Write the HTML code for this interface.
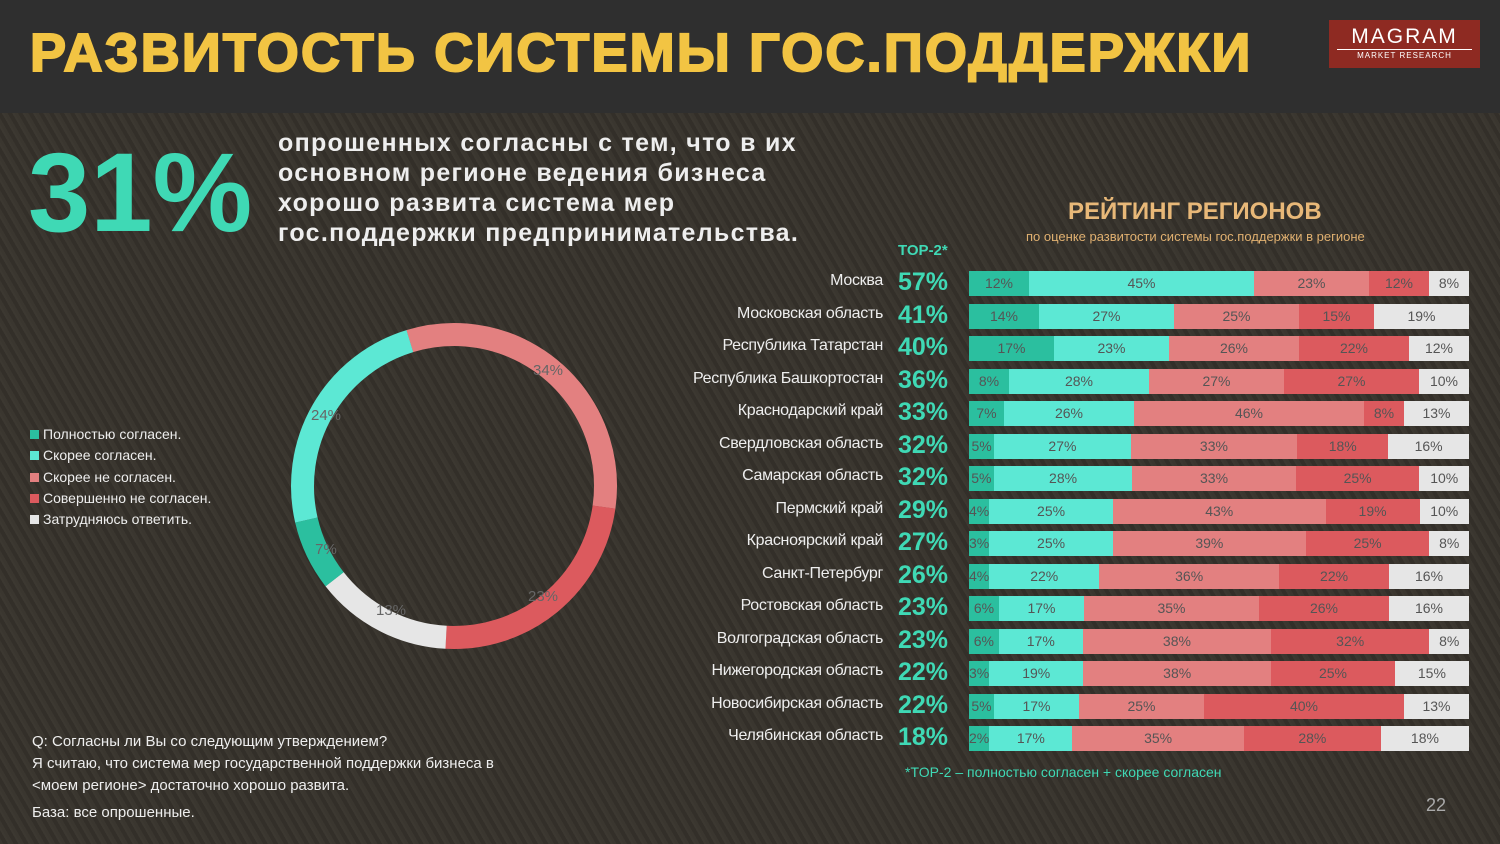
<!DOCTYPE html>
<html><head><meta charset="utf-8"><style>
*{margin:0;padding:0;box-sizing:border-box}
body{width:1500px;height:844px;overflow:hidden;font-family:"Liberation Sans",sans-serif;position:relative;
background:repeating-linear-gradient(60deg,#3a362f 0 3px,#332f29 3px 7px,#3c3831 7px 9px),#37332d;}
.hdr{position:absolute;left:0;top:0;width:1500px;height:113px;background:#2f2f2f}
.title{position:absolute;left:30px;top:22px;font-size:54px;font-weight:900;color:#f2c443;letter-spacing:2.2px;-webkit-text-stroke:2px #f2c443}
.logo{position:absolute;left:1329px;top:20px;width:151px;height:48px;background:#8e2a22;color:#fff;text-align:center}
.abs{position:absolute}
.big{left:28px;top:128px;font-size:112px;font-weight:bold;color:#3fd9b5}
.lead{left:278px;top:128px;font-size:25px;font-weight:bold;color:#eee;line-height:30px;letter-spacing:1.3px}
.leg{left:30px;top:424px;font-size:14px;color:#eee;line-height:21.3px}
.leg span{display:inline-block;width:9px;height:9px;margin-right:4px}
.row{position:absolute;left:969px;width:500px;height:25px;display:flex}
.row div{height:25px;line-height:25px;font-size:14px;color:#555;text-align:center;white-space:nowrap}
.name{position:absolute;right:617px;font-size:16px;color:#eee;text-align:right;white-space:nowrap;letter-spacing:-0.3px}
.top{position:absolute;left:898px;font-size:25px;font-weight:bold;color:#3fd9b5}
.a{background:#2bbf9f}.b{background:#5ce8d4}.c{background:#e38080}.d{background:#dc5a5e}.e{background:#e6e6e6}
</style></head><body>
<div class="hdr"></div>
<div class="title">РАЗВИТОСТЬ СИСТЕМЫ ГОС.ПОДДЕРЖКИ</div>
<div class="logo"><div style="font-size:21px;letter-spacing:2px;margin-top:6px;line-height:22px">MAGRAM</div><div style="font-size:8px;border-top:1px solid #fff;margin:1px 8px 0;padding-top:1px;letter-spacing:1px">MARKET RESEARCH</div></div>
<div class="abs big">31%</div>
<div class="abs lead">опрошенных согласны с тем, что в их<br>основном регионе ведения бизнеса<br>хорошо развита система мер<br>гос.поддержки предпринимательства.</div>
<div class="abs" style="left:1068px;top:198px;font-size:24px;font-weight:bold;color:#e8b878">РЕЙТИНГ РЕГИОНОВ</div>
<div class="abs" style="left:1026px;top:229px;font-size:13px;color:#e0b070">по оценке развитости системы гос.поддержки в регионе</div>
<div class="abs" style="left:898px;top:242px;font-size:15px;font-weight:900;color:#3fd9b5">TOP-2*</div>
<svg class="abs" style="left:0;top:0" width="1500" height="844">
<g fill="none" stroke-width="23">
<circle cx="454" cy="486" r="151.5" stroke="#e38080" stroke-dasharray="304.1 1000" transform="rotate(253 454 486)"/>
<circle cx="454" cy="486" r="151.5" stroke="#dc5a5e" stroke-dasharray="224.8 1000" transform="rotate(8 454 486)"/>
<circle cx="454" cy="486" r="151.5" stroke="#e6e6e6" stroke-dasharray="129.6 1000" transform="rotate(93 454 486)"/>
<circle cx="454" cy="486" r="151.5" stroke="#2bbf9f" stroke-dasharray="66.1 1000" transform="rotate(142 454 486)"/>
<circle cx="454" cy="486" r="151.5" stroke="#5ce8d4" stroke-dasharray="227.4 1000" transform="rotate(167 454 486)"/>
</g>
<g font-size="15" fill="#666" text-anchor="middle" font-family="Liberation Sans">
<text x="548" y="375">34%</text><text x="543" y="601">23%</text><text x="391" y="615">13%</text><text x="326" y="554">7%</text><text x="326" y="420">24%</text>
</g></svg>
<div class="abs leg"><span class="a"></span>Полностью согласен.<br><span class="b"></span>Скорее согласен.<br><span class="c"></span>Скорее не согласен.<br><span class="d"></span>Совершенно не согласен.<br><span class="e"></span>Затрудняюсь ответить.</div>
<div id="rows"></div>
<div class="abs" style="left:905px;top:764px;font-size:14px;color:#3fd9b5">*TOP-2 – полностью согласен + скорее согласен</div>
<div class="abs" style="left:32px;top:731px;font-size:15px;color:#eee;line-height:22px">Q: Согласны ли Вы со следующим утверждением?<br>Я считаю, что система мер государственной поддержки бизнеса в<br>&lt;моем регионе&gt; достаточно хорошо развита.</div>
<div class="abs" style="left:32px;top:804px;font-size:15px;color:#eee">База: все опрошенные.</div>
<div class="abs" style="left:1426px;top:795px;font-size:18px;color:#aaa">22</div>
<script>
var d=[["Москва",57,12,45,23,12,8],["Московская область",41,14,27,25,15,19],["Республика Татарстан",40,17,23,26,22,12],["Республика Башкортостан",36,8,28,27,27,10],["Краснодарский край",33,7,26,46,8,13],["Свердловская область",32,5,27,33,18,16],["Самарская область",32,5,28,33,25,10],["Пермский край",29,4,25,43,19,10],["Красноярский край",27,3,25,39,25,8],["Санкт-Петербург",26,4,22,36,22,16],["Ростовская область",23,6,17,35,26,16],["Волгоградская область",23,6,17,38,32,8],["Нижегородская область",22,3,19,38,25,15],["Новосибирская область",22,5,17,25,40,13],["Челябинская область",18,2,17,35,28,18]];
var h="",c="abcde";
d.forEach(function(r,i){var y=271+i*32.5;
h+='<div class="name" style="top:'+(y+1)+'px">'+r[0]+'</div><div class="top" style="top:'+(y-3)+'px">'+r[1]+'%</div><div class="row" style="top:'+y+'px">';
for(var k=0;k<5;k++)h+='<div class="'+c[k]+'" style="flex:'+r[k+2]+' 1 0">'+r[k+2]+'%</div>';
h+='</div>';});
document.getElementById("rows").innerHTML=h;
</script>
</body></html>
